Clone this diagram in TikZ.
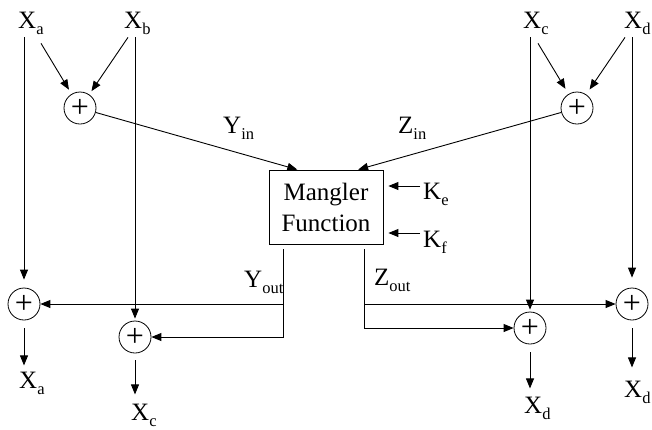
\documentclass[tikz,border=0pt]{standalone}
\usepackage{fontspec}
\setmainfont{Liberation Serif}
\usetikzlibrary{positioning,arrows.meta,calc}
\newcommand{\sublbl}[2]{#1\raisebox{-6pt}{\fontsize{16.5}{16.5}\selectfont #2}}

\begin{document}
\begin{tikzpicture}[x=1pt,y=-1pt,
    every node/.style={font=\fontsize{25}{31}\selectfont},
    lbl/.style={anchor=base west,inner sep=1pt},
    adder/.style={draw,circle,line width=0.8pt,minimum size=32pt,inner sep=0pt,font=\fontsize{32}{32}\selectfont},
    wire/.style={line width=0.9pt},
    arr/.style={wire,-{Triangle[length=10pt,width=8pt]}}]
  \useasboundingbox (0,0) rectangle (652,429);

  % inputs and first adders
  \node[lbl] (xa) at (17,28) {\sublbl{X}{a}};
  \node[lbl] (xb) at (123,28) {\sublbl{X}{b}};
  \node[lbl] (xc) at (522,28) {\sublbl{X}{c}};
  \node[lbl] (xd) at (623,28) {\sublbl{X}{d}};
  \node[adder] (sab) at (80,108) {+};
  \node[adder] (scd) at (577,108) {+};

  % mangler box and its labels
  \node[draw,line width=0.8pt,minimum width=114pt,minimum height=74pt,align=center,inner sep=0pt] (mf) at (326,207) {Mangler\\Function};
  \node[lbl] (yin) at (222,133) {\sublbl{Y}{in}};
  \node[lbl] (zin) at (397,133) {\sublbl{Z}{in}};
  \node[lbl] (ke) at (422,199) {\sublbl{K}{e}};
  \node[lbl] (kf) at (422,247) {\sublbl{K}{f}};
  \node[lbl] (yout) at (243,287) {\sublbl{Y}{out}};
  \node[lbl] (zout) at (373,285) {\sublbl{Z}{out}};

  % output adders
  \node[adder] (oa) at (24,304) {+};
  \node[adder] (oc) at (135,337) {+};
  \node[adder] (od1) at (530,328) {+};
  \node[adder] (od2) at (632,304) {+};
  \node[lbl] (xa2) at (18,388) {\sublbl{X}{a}};
  \node[lbl] (xc2) at (130,420) {\sublbl{X}{c}};
  \node[lbl] (xd1) at (523,413) {\sublbl{X}{d}};
  \node[lbl] (xd2) at (623,397) {\sublbl{X}{d}};

  % straight-through lines
  \draw[arr,shorten <=2pt,shorten >=8pt] (xa.south -| oa) -- (oa);
  \draw[arr,shorten <=2pt,shorten >=2pt] (xb.south -| oc) -- (oc);
  \draw[arr,shorten <=2pt,shorten >=2pt] (xc.south -| od1) -- (od1);
  \draw[arr,shorten <=2pt,shorten >=10pt] (xd.south -| od2) -- (od2);

  % into the first adders
  \draw[arr,shorten >=5pt] ([shift={(24,8)}]xa.south west) -- (sab);
  \draw[arr,shorten >=4pt] ([shift={(5,2)}]xb.south west) -- (sab);
  \draw[arr,shorten >=6pt] ([shift={(16,8)}]xc.south west) -- (scd);
  \draw[arr,shorten >=6pt] ([shift={(2,2)}]xd.south west) -- (scd);

  % into the box
  \draw[arr] (sab) -- ($(mf.north west)!0.25!(mf.north east)$);
  \draw[arr] (scd) -- ($(mf.north west)!0.78!(mf.north east)$);
  \coordinate (kein) at ([yshift=13pt]ke.base west);
  \coordinate (kfin) at ([yshift=14pt]kf.base west);
  \draw[arr,shorten <=2pt,shorten >=5pt] (kein) -- (kein -| mf.east);
  \draw[arr,shorten <=2pt,shorten >=5pt] (kfin) -- (kfin -| mf.east);

  % out of the box
  \coordinate (yo) at ($(mf.south west)!0.13!(mf.south east)+(0,5)$);
  \coordinate (zo) at ($(mf.south west)!0.833!(mf.south east)+(0,5)$);
  \draw[arr] (yo) |- (oc);
  \draw[arr] (yo |- oa) -- (oa);
  \draw[arr] (zo) |- (od1);
  \draw[arr] (zo |- od2) -- (od2);

  % results
  \draw[arr,shorten <=8pt,shorten >=5pt] (oa) -- (oa |- xa2.north);
  \draw[arr,shorten <=7pt,shorten >=8pt] (oc) -- (oc |- xc2.north);
  \draw[arr,shorten <=8pt,shorten >=7pt] (od1) -- (od1 |- xd1.north);
  \draw[arr,shorten <=8pt,shorten >=12pt] (od2) -- (od2 |- xd2.north);
\end{tikzpicture}
\end{document}
